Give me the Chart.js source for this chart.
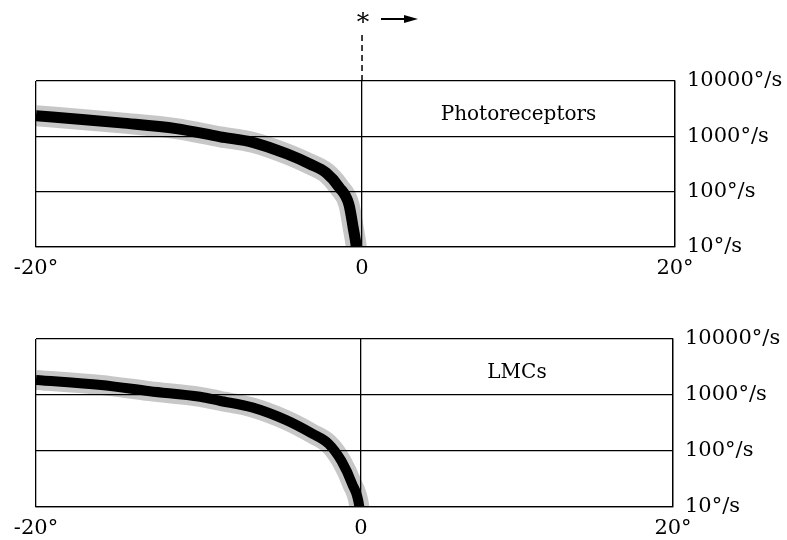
<!DOCTYPE html>
<html lang="en">
<head>
  <meta charset="UTF-8" />
  <title>Photoreceptors / LMCs velocity response</title>
  <style>
    body {
      margin: 0;
      padding: 0;
      background: #fff;
    }
    .panel {
      position: absolute;
      left: 0;
      width: 787px;
    }
    #topPanel { top: 0; height: 290px; }
    #bottomPanel { top: 290px; height: 250px; }
  </style>
  <script src="https://cdn.jsdelivr.net/npm/chart.js"></script>
</head>
<body>
  <div class="panel" id="topPanel"><canvas id="photoChart" width="787" height="290"></canvas></div>
  <div class="panel" id="bottomPanel"><canvas id="lmcChart" width="787" height="250"></canvas></div>

  <script>
    // axis ticks (the 20° edge sits a little short of symmetric in the original)
    const xTickValues = [-20, 0, 19.2];
    const xTickLabels = ["-20°", "0", "20°"];
    const yTickValues = [10, 100, 1000, 10000];
    const yTickLabels = ["10°/s", "100°/s", "1000°/s", "10000°/s"];

    // position (deg) vs velocity (°/s)
    const photoX = [-20, -17, -14.8, -11.4, -8.7, -6.7, -4.6, -3.2, -2.2, -1.4, -0.8, -0.55, -0.35, -0.3];
    const photoV = [2350, 2000, 1750, 1380, 980, 780, 480, 316, 220, 120, 58, 23, 10, 7];

    const lmcX = [-20, -16, -13, -9.9, -8.7, -6.7, -4.6, -3.0, -2.0, -1.2, -0.55, -0.1, -0.05];
    const lmcV = [1860, 1510, 1170, 930, 790, 600, 355, 204, 135, 66, 26, 10, 7];

    const panelTitles = ["Photoreceptors", "LMCs"];

    Chart.defaults.font.family = "'DejaVu Serif', serif";
    Chart.defaults.color = "#000";

    const toPoints = (xs, vs) => xs.map((x, i) => ({ x: x, y: vs[i] }));

    // panel label + the "* ->" marker above the top panel
    const decorPlugin = {
      id: "decor",
      afterDraw(chart, args, opts) {
        const ctx = chart.ctx;
        const area = chart.chartArea;
        const xZero = chart.scales.x.getPixelForValue(0);
        ctx.save();
        ctx.fillStyle = "#000";
        ctx.font = "20px 'DejaVu Serif'";
        ctx.textAlign = "center";
        ctx.textBaseline = "middle";
        const mid = (xZero + area.right) / 2;
        ctx.fillText(opts.title, mid, area.top + 34);

        if (opts.marker) {
          ctx.strokeStyle = "#000";
          ctx.lineWidth = 1.5;
          ctx.setLineDash([6, 4]);
          ctx.beginPath();
          ctx.moveTo(xZero, 35);
          ctx.lineTo(xZero, area.top);
          ctx.stroke();
          ctx.setLineDash([]);

          ctx.font = "25px 'DejaVu Serif'";
          ctx.textBaseline = "alphabetic";
          ctx.fillText("*", xZero + 1, 30);

          ctx.lineWidth = 2;
          ctx.beginPath();
          ctx.moveTo(xZero + 19, 19);
          ctx.lineTo(xZero + 44, 19);
          ctx.stroke();
          ctx.beginPath();
          ctx.moveTo(xZero + 56, 19);
          ctx.lineTo(xZero + 42, 15);
          ctx.lineTo(xZero + 42, 23);
          ctx.closePath();
          ctx.fill();
        }
        ctx.restore();
      }
    };

    function makePanel(canvasId, xs, vs, title, padTop, padBottom, axisWidth, marker, coreWidth) {
      const pts = toPoints(xs, vs);
      return new Chart(document.getElementById(canvasId), {
        type: "line",
        data: {
          datasets: [
            {
              data: pts,
              borderColor: "rgba(0,0,0,0.22)",
              borderWidth: coreWidth + 10,
              pointRadius: 0,
              cubicInterpolationMode: "monotone",
              clip: 0
            },
            {
              data: pts,
              borderColor: "#000",
              borderWidth: coreWidth,
              pointRadius: 0,
              cubicInterpolationMode: "monotone",
              clip: 0
            }
          ]
        },
        options: {
          responsive: false,
          animation: false,
          layout: {
            padding: { top: padTop, bottom: padBottom, left: 36, right: 0 }
          },
          plugins: {
            legend: { display: false },
            tooltip: { enabled: false },
            decor: { title: title, marker: marker }
          },
          scales: {
            x: {
              type: "linear",
              min: -20,
              max: 19.2,
              afterBuildTicks: (scale) => {
                scale.ticks = xTickValues.map(v => ({ value: v }));
              },
              afterFit: (scale) => {
                scale.height = 33;
              },
              ticks: {
                font: { size: 21 },
                padding: 9,
                maxRotation: 0,
                callback: (v, i) => xTickLabels[i]
              },
              grid: { color: "#000", lineWidth: 1.3, drawTicks: false },
              border: { color: "#000", width: 1.3 }
            },
            y: {
              type: "logarithmic",
              position: "right",
              min: 10,
              max: 10000,
              afterBuildTicks: (scale) => {
                scale.ticks = yTickValues.map(v => ({ value: v }));
              },
              afterFit: (scale) => {
                scale.width = axisWidth;
              },
              ticks: {
                font: { size: 21 },
                padding: 12,
                callback: (v, i) => yTickLabels[i]
              },
              grid: { color: "#000", lineWidth: 1.3, drawTicks: false },
              border: { color: "#000", width: 1.3 }
            }
          }
        },
        plugins: [decorPlugin]
      });
    }

    makePanel("photoChart", photoX, photoV, panelTitles[0], 81, 10, 112, true, 11);
    makePanel("lmcChart", lmcX, lmcV, panelTitles[1], 49, 0, 114, false, 10);
  </script>
</body>
</html>
